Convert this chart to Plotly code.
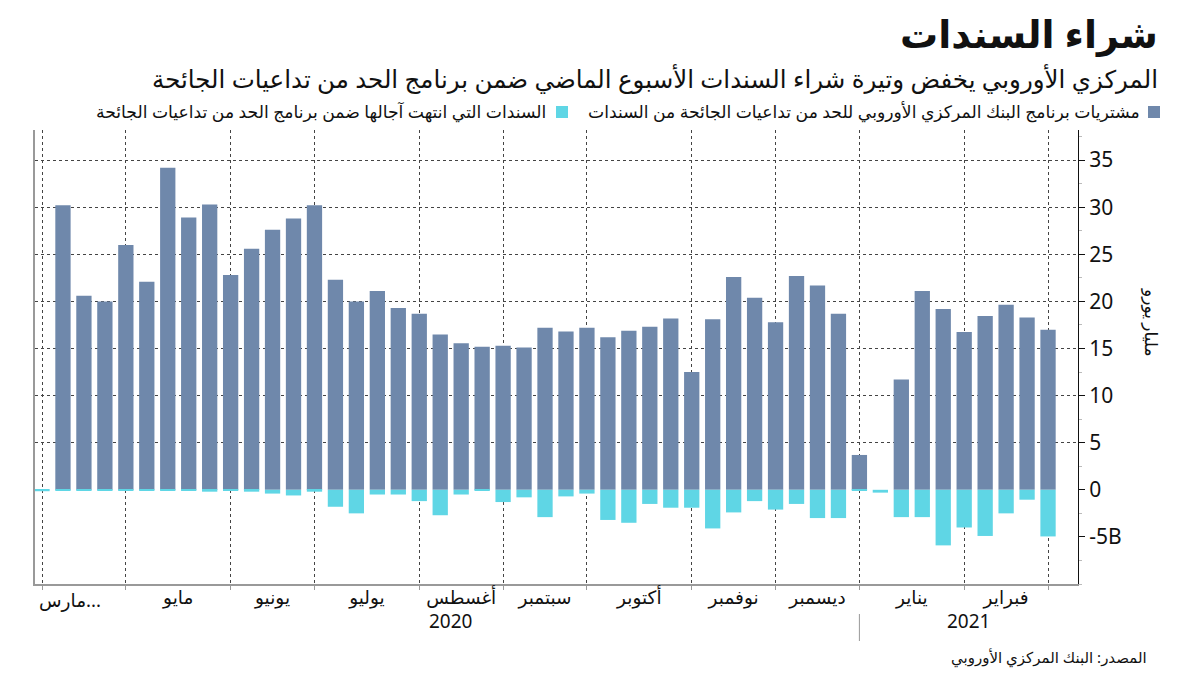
import plotly.graph_objects as go

# ---------------- data ----------------
week_index = list(range(49))
pepp_purchases = [0, 30.2, 20.6, 20.0, 26.0, 22.1, 34.2, 28.9, 30.3, 22.8,
                  25.6, 27.6, 28.8, 30.2, 22.3, 20.0, 21.1, 19.3, 18.7, 16.5,
                  15.55, 15.2, 15.3, 15.1, 17.2, 16.8, 17.2, 16.2, 16.9, 17.3,
                  18.2, 12.5, 18.1, 22.6, 20.4, 17.8, 22.7, 21.7, 18.7, 3.7,
                  0, 11.7, 21.1, 19.2, 16.75, 18.45, 19.65, 18.3, 17.0]
pepp_redemptions = [-0.15, -0.1, -0.1, -0.1, -0.1, -0.1, -0.1, -0.1, -0.2, -0.1,
                    -0.2, -0.4, -0.6, -0.2, -1.8, -2.5, -0.5, -0.5, -1.2, -2.7,
                    -0.5, -0.1, -1.3, -0.8, -2.9, -0.7, -0.4, -3.2, -3.5, -1.5,
                    -1.9, -1.9, -4.1, -2.4, -1.2, -2.1, -1.5, -3.0, -3.0, -0.1,
                    -0.3, -2.9, -2.9, -5.9, -4.0, -4.9, -2.5, -1.05, -4.95]

month_starts = [0, 4, 9, 13, 18, 22, 26, 31, 35, 39, 44, 48]
first_month_label = "\u200f...مارس"
month_label_pos = [6.5, 11, 15.5, 20, 24, 28.5, 33, 37, 41.5, 46]
month_labels = ["مايو", "يونيو", "يوليو", "أغسطس", "سبتمبر",
                "أكتوبر", "نوفمبر", "ديسمبر", "يناير", "فبراير"]
year_labels = ["2020", "2021"]
year_label_pos = [19.5, 44.2]
year_separator = 39

y_ticks = [-5, 0, 5, 10, 15, 20, 25, 30, 35]
y_ticktext = ["-5B", "0", "5", "10", "15", "20", "25", "30", "35"]
grid_y = [5, 10, 15, 20, 25, 30, 35]

title = "شراء السندات"
subtitle = "المركزي الأوروبي يخفض وتيرة شراء السندات الأسبوع الماضي ضمن برنامج الحد من تداعيات الجائحة"
legend_1 = "مشتريات برنامج البنك المركزي الأوروبي للحد من تداعيات الجائحة من السندات"
legend_2 = "السندات التي انتهت آجالها ضمن برنامج الحد من تداعيات الجائحة"
y_title = "مليار يورو"
source = "المصدر: البنك المركزي الأوروبي"

DARK = "#6f88ab"
CYAN = "#5fd6e5"
FONT = "Noto Sans, DejaVu Sans, sans-serif"

x_range = [-0.334, 49.43]
y_range = [-10, 38.2]

fig = go.Figure()
fig.add_trace(go.Bar(x=week_index, y=pepp_purchases, marker_color=DARK,
                     marker_line_width=0, width=0.73, xaxis="x2", yaxis="y2",
                     name=legend_1, showlegend=False))
fig.add_trace(go.Bar(x=week_index, y=pepp_redemptions, marker_color=CYAN,
                     marker_line_width=0, width=0.73, xaxis="x2", yaxis="y2",
                     name=legend_2, showlegend=False))

fig.update_layout(
    width=1200, height=675,
    margin=dict(l=35, r=122, t=130, b=91),
    paper_bgcolor="white", plot_bgcolor="white",
    barmode="relative",
    font=dict(family=FONT, color="#111"),
    xaxis=dict(range=x_range, tickvals=month_starts, showticklabels=False,
               showgrid=True, gridcolor="#444", griddash="dot", gridwidth=1,
               ticks="outside", ticklen=4, tickcolor="#999",
               showline=True, linecolor="#999", linewidth=1.5, zeroline=False),
    yaxis=dict(range=y_range, side="left", tickvals=grid_y, showticklabels=False,
               showgrid=True, gridcolor="#444", griddash="dot", gridwidth=1,
               ticks="", showline=True, linecolor="#999", linewidth=1.5,
               zeroline=False),
    xaxis2=dict(range=x_range, overlaying="x", side="bottom",
                tickvals=month_label_pos, ticktext=month_labels,
                showgrid=False, showline=False, zeroline=False, ticks="",
                tickfont=dict(size=18.5, color="#111", family=FONT)),
    yaxis2=dict(range=y_range, overlaying="y", side="right", anchor="x2",
                tickvals=y_ticks, ticktext=y_ticktext, showgrid=False,
                zeroline=False, showline=True, linecolor="#111", linewidth=1.2,
                ticks="outside", ticklen=6, tickcolor="#111",
                minor=dict(dtick=2.5, tick0=0, ticks="outside", ticklen=3,
                           tickcolor="#bbb"),
                tickfont=dict(size=21, color="#111", family=FONT)),
)

ann = []
ann.append(dict(text="<b>" + title + "</b>", x=1160, y=33, font=dict(size=38)))
ann.append(dict(text=subtitle, x=1160, y=78, font=dict(size=24.5)))
ann.append(dict(text=legend_1, x=1142, y=112, font=dict(size=17.2)))
ann.append(dict(text=legend_2, x=548, y=112, font=dict(size=17.2)))
ann.append(dict(text=source, x=1149, y=657, font=dict(size=15)))

PW, PH, L, T = 1043, 454, 35, 130
annotations = []
for a in ann:
    annotations.append(dict(text=a["text"], xref="paper", yref="paper",
                            x=(a["x"] - L) / PW, y=(T + PH - a["y"]) / PH,
                            xanchor="right", yanchor="middle", showarrow=False,
                            font=dict(family=FONT, color="#111", **a["font"])))
annotations.append(dict(text=first_month_label, xref="paper", yref="paper",
                        x=(37 - L) / PW, y=(T + PH - 599) / PH, xanchor="left",
                        yanchor="middle", showarrow=False,
                        font=dict(family=FONT, size=18.5, color="#111")))
for lbl, pos in zip(year_labels, year_label_pos):
    annotations.append(dict(text=lbl, xref="x", yref="paper", x=pos,
                            y=(T + PH - 621) / PH, xanchor="center",
                            yanchor="middle", showarrow=False,
                            font=dict(family=FONT, size=19, color="#111")))
annotations.append(dict(text=y_title, xref="paper", yref="paper",
                        x=(1152 - L) / PW, y=(T + PH - 322) / PH, textangle=90,
                        xanchor="center", yanchor="middle", showarrow=False,
                        font=dict(family=FONT, size=17, color="#111")))
fig.update_layout(annotations=annotations)

shapes = []
# legend squares
for xc, col in [(1154, DARK), (562, CYAN)]:
    shapes.append(dict(type="rect", xref="paper", yref="paper",
                       x0=(xc - 6 - L) / PW, x1=(xc + 6 - L) / PW,
                       y0=(T + PH - 118) / PH, y1=(T + PH - 106) / PH,
                       fillcolor=col, line_width=0))
# year separator
shapes.append(dict(type="line", xref="x", yref="paper", x0=year_separator,
                   x1=year_separator, y0=(T + PH - 614) / PH,
                   y1=(T + PH - 641) / PH, line=dict(color="#999", width=1)))
fig.update_layout(shapes=shapes)

fig.write_html("out.html", config={"displayModeBar": False},
               post_script="document.body.style.margin='0';document.body.style.padding='0';")
